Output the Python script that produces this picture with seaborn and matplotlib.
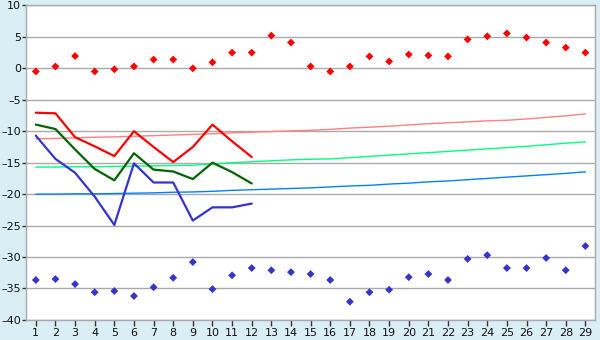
import numpy as np
import pandas as pd
import matplotlib
matplotlib.use("Agg")
import matplotlib.pyplot as plt
import seaborn as sns

days = list(range(1, 30))
days12 = list(range(1, 13))

# Daily series (first 12 days)
t_max = [-7.05, -7.15, -10.95, -12.4, -13.95, -10.0, -12.5, -14.9, -12.5, -8.95, -11.6, -14.1]
t_mean = [-8.95, -9.65, -12.9, -16.0, -17.8, -13.5, -16.1, -16.4, -17.6, -15.0, -16.5, -18.3]
t_min = [-10.7, -14.4, -16.6, -20.4, -24.9, -15.1, -18.15, -18.15, -24.2, -22.1, -22.1, -21.5]

# Normals (thin lines)
norm_max = [-11.2, -11.15, -11.05, -10.95, -10.9, -10.8, -10.7, -10.6, -10.5, -10.4,
            -10.25, -10.15, -10.05, -9.95, -9.85, -9.7, -9.5, -9.35, -9.2, -9.0,
            -8.8, -8.65, -8.5, -8.35, -8.25, -8.05, -7.8, -7.55, -7.25]
norm_mean = [-15.7, -15.7, -15.65, -15.65, -15.6, -15.55, -15.5, -15.45, -15.4, -15.2,
             -15.0, -14.85, -14.7, -14.55, -14.45, -14.4, -14.2, -14.0, -13.8, -13.6,
             -13.4, -13.2, -13.0, -12.8, -12.6, -12.4, -12.15, -11.9, -11.7]
norm_min = [-20.0, -20.0, -19.95, -19.95, -19.9, -19.85, -19.8, -19.7, -19.65, -19.55,
            -19.4, -19.3, -19.2, -19.1, -19.0, -18.85, -18.7, -18.6, -18.4, -18.25,
            -18.05, -17.9, -17.7, -17.5, -17.3, -17.1, -16.9, -16.7, -16.45]

# Records (points)
rec_high = [-0.5, 0.3, 1.95, -0.5, -0.15, 0.3, 1.4, 1.4, 0.0, 0.95,
            2.5, 2.5, 5.2, 4.1, 0.3, -0.5, 0.3, 1.9, 1.1, 2.2,
            2.05, 1.9, 4.6, 5.1, 5.55, 4.9, 4.1, 3.3, 2.5]
rec_low = [-33.65, -33.5, -34.3, -35.6, -35.4, -36.2, -34.8, -33.3, -30.8, -35.1,
           -32.9, -31.75, -32.1, -32.4, -32.7, -33.65, -37.1, -35.6, -35.2, -33.2,
           -32.7, -33.65, -30.3, -29.7, -31.75, -31.75, -30.15, -32.1, -28.25]

x_ticks = days
y_ticks = [-40, -35, -30, -25, -20, -15, -10, -5, 0, 5, 10]

sns.set_theme(style="white")
plt.rcParams['font.family'] = ['DejaVu Sans']

bg = "#daeef5"
fig = plt.figure(figsize=(6.0, 3.4), dpi=100, facecolor=bg)
ax = fig.add_axes([0.044, 0.059, 0.948, 0.925])
ax.set_facecolor("white")

for yv in y_ticks:
    ax.axhline(yv, color="#aaaaaa", lw=1.0, zorder=0)

df_norm = pd.DataFrame({"day": days, "nmax": norm_max, "nmean": norm_mean, "nmin": norm_min})
sns.lineplot(data=df_norm, x="day", y="nmax", color="#ff8080", lw=1.0, ax=ax)
sns.lineplot(data=df_norm, x="day", y="nmean", color="#00ff80", lw=1.0, ax=ax)
sns.lineplot(data=df_norm, x="day", y="nmin", color="#0080ff", lw=1.0, ax=ax)

df_d = pd.DataFrame({"day": days12, "tmax": t_max, "tmean": t_mean, "tmin": t_min})
sns.lineplot(data=df_d, x="day", y="tmax", color="#ff0000", lw=1.6, ax=ax)
sns.lineplot(data=df_d, x="day", y="tmean", color="#006400", lw=1.6, ax=ax)
sns.lineplot(data=df_d, x="day", y="tmin", color="#3535cc", lw=1.6, ax=ax)

df_r = pd.DataFrame({"day": days, "hi": rec_high, "lo": rec_low})
sns.scatterplot(data=df_r, x="day", y="hi", color="#ff0000", marker="D", s=16,
                edgecolor="none", ax=ax, zorder=5)
sns.scatterplot(data=df_r, x="day", y="lo", color="#3535cc", marker="D", s=16,
                edgecolor="none", ax=ax, zorder=5)

ax.set_xlim(0.52, 29.5)
ax.set_ylim(-40, 10)
ax.set_xticks(x_ticks)
ax.set_xticklabels([str(d) for d in x_ticks])
ax.set_yticks(y_ticks)
ax.set_yticklabels([str(v).replace("-", "\u2013") for v in y_ticks])
ax.set_xlabel("")
ax.set_ylabel("")
ax.tick_params(axis="both", which="both", direction="out", length=4, width=1,
               color="#333333", labelsize=8, labelcolor="#111111", pad=1.5,
               bottom=True, left=True)
ax.tick_params(axis="y", length=3, pad=1)
for s in ax.spines.values():
    s.set_color("#aaaaaa")
    s.set_linewidth(1.0)
    s.set_visible(True)

fig.savefig("out.png", dpi=100, facecolor=bg)
